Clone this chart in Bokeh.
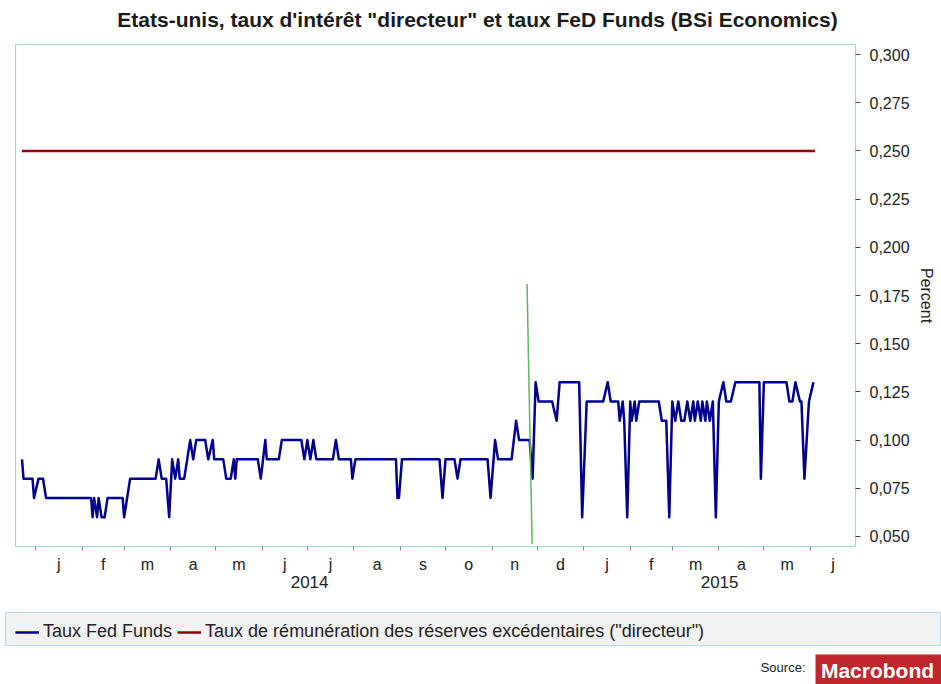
import pandas as pd
from bokeh.plotting import figure
from bokeh.layouts import column
from bokeh.models import (Range1d, LinearAxis, FixedTicker, Legend, LegendItem,
                          ColumnDataSource)
from bokeh.core.properties import value
from bokeh.embed import file_html
from bokeh.resources import INLINE

# ---------------- data ----------------
fed_dates = [
    "2013-12-23", "2013-12-24", "2013-12-30", "2013-12-31", "2014-01-03", "2014-01-06",
    "2014-01-08", "2014-02-07", "2014-02-08", "2014-02-09", "2014-02-11", "2014-02-12",
    "2014-02-14", "2014-02-16", "2014-02-18", "2014-02-28", "2014-03-01", "2014-03-03",
    "2014-03-05", "2014-03-22", "2014-03-24", "2014-03-26", "2014-03-29", "2014-03-31",
    "2014-04-02", "2014-04-04", "2014-04-06", "2014-04-07", "2014-04-10", "2014-04-12",
    "2014-04-14", "2014-04-16", "2014-04-18", "2014-04-24", "2014-04-26", "2014-04-29",
    "2014-04-30", "2014-05-06", "2014-05-08", "2014-05-11", "2014-05-13", "2014-05-14",
    "2014-05-15", "2014-05-29", "2014-05-31", "2014-06-03", "2014-06-04", "2014-06-12",
    "2014-06-14", "2014-06-27", "2014-06-29", "2014-07-01", "2014-07-03", "2014-07-05",
    "2014-07-07", "2014-07-18", "2014-07-20", "2014-07-22", "2014-07-30", "2014-07-31",
    "2014-08-02", "2014-08-29", "2014-08-30", "2014-08-31", "2014-09-02", "2014-09-27",
    "2014-09-29", "2014-10-01", "2014-10-07", "2014-10-09", "2014-10-11", "2014-10-29",
    "2014-10-31", "2014-11-03", "2014-11-05", "2014-11-14", "2014-11-17", "2014-11-19",
    "2014-11-26", "2014-11-28", "2014-11-30", "2014-12-02", "2014-12-11", "2014-12-14",
    "2014-12-16", "2014-12-29", "2014-12-31", "2015-01-03", "2015-01-14", "2015-01-17",
    "2015-01-19", "2015-01-24", "2015-01-25", "2015-01-27", "2015-01-28", "2015-01-30",
    "2015-02-01", "2015-02-02", "2015-02-04", "2015-02-05", "2015-02-07", "2015-02-20",
    "2015-02-22", "2015-02-25", "2015-02-27", "2015-03-01", "2015-03-03", "2015-03-05",
    "2015-03-07", "2015-03-09", "2015-03-11", "2015-03-13", "2015-03-15", "2015-03-16",
    "2015-03-18", "2015-03-20", "2015-03-21", "2015-03-23", "2015-03-24", "2015-03-26",
    "2015-03-28", "2015-03-30", "2015-04-01", "2015-04-04", "2015-04-06", "2015-04-09",
    "2015-04-12", "2015-04-28", "2015-04-29", "2015-05-01", "2015-05-16", "2015-05-18",
    "2015-05-20", "2015-05-22", "2015-05-25", "2015-05-26", "2015-05-28", "2015-05-31",
    "2015-06-03",
]
fed_values = [
    0.09, 0.08, 0.08, 0.07, 0.08, 0.08,
    0.07, 0.07, 0.06, 0.07, 0.06, 0.07,
    0.06, 0.06, 0.07, 0.07, 0.06, 0.07,
    0.08, 0.08, 0.09, 0.08, 0.08, 0.06,
    0.09, 0.08, 0.09, 0.08, 0.08, 0.09,
    0.10, 0.09, 0.10, 0.10, 0.09, 0.10,
    0.09, 0.09, 0.08, 0.08, 0.09, 0.08,
    0.09, 0.09, 0.08, 0.10, 0.09, 0.09,
    0.10, 0.10, 0.09, 0.10, 0.09, 0.10,
    0.09, 0.09, 0.10, 0.09, 0.09, 0.08,
    0.09, 0.09, 0.07, 0.07, 0.09, 0.09,
    0.07, 0.09, 0.09, 0.08, 0.09, 0.09,
    0.07, 0.10, 0.09, 0.09, 0.11, 0.10,
    0.10, 0.08, 0.13, 0.12, 0.12, 0.11,
    0.13, 0.13, 0.06, 0.12, 0.12, 0.13,
    0.12, 0.12, 0.11, 0.12, 0.11, 0.06,
    0.12, 0.11, 0.12, 0.11, 0.12, 0.12,
    0.11, 0.11, 0.06, 0.12, 0.11, 0.12,
    0.11, 0.11, 0.12, 0.11, 0.12, 0.11,
    0.12, 0.11, 0.12, 0.11, 0.12, 0.11,
    0.12, 0.06, 0.12, 0.13, 0.12, 0.12,
    0.13, 0.13, 0.08, 0.13, 0.13, 0.12,
    0.12, 0.13, 0.12, 0.12, 0.08, 0.12,
    0.13,
]
ioer_dates = ["2013-12-23", "2015-06-04"]
ioer_values = [0.25, 0.25]
marker_dates = ["2014-11-24 07:00", "2014-11-27 16:00"]
marker_values = [0.181, 0.046]

series_names = ["Taux Fed Funds",
                "Taux de rémunération des réserves excédentaires (\"directeur\")"]
series_colors = ["#000090", "#990000"]
title_text = "Etats-unis, taux d'intérêt \"directeur\" et taux FeD Funds (BSi Economics)"
source_text = "Source:"
logo_text = "Macrobond"

month_bounds = [
    "2014-01-01", "2014-02-01", "2014-03-01", "2014-04-01", "2014-05-01", "2014-06-01",
    "2014-07-01", "2014-08-01", "2014-09-01", "2014-10-01", "2014-11-01", "2014-12-01",
    "2015-01-01", "2015-02-01", "2015-03-01", "2015-04-01", "2015-05-01", "2015-06-01",
    "2015-07-01",
]
month_letters = ["j", "f", "m", "a", "m", "j", "j", "a", "s", "o", "n", "d",
                 "j", "f", "m", "a", "m", "j"]
year_starts = ["2014-01-01", "2015-01-01"]
year_labels = ["2014", "2015"]
x_start, x_end = "2013-12-18 16:00", "2015-07-01"

y_ticks = [0.050, 0.075, 0.100, 0.125, 0.150, 0.175, 0.200, 0.225, 0.250, 0.275, 0.300]
y_tick_labels = ["0,050", "0,075", "0,100", "0,125", "0,150", "0,175", "0,200",
                 "0,225", "0,250", "0,275", "0,300"]


def ms(s):
    return pd.Timestamp(s).value / 1e6


FONT = "Liberation Sans"
W = 941


def strip(height):
    f = figure(width=W, height=height, x_axis_type=None, y_axis_type=None,
               x_range=Range1d(0, W), y_range=Range1d(height, 0),
               output_backend="svg", toolbar_location=None, frame_align=False,
               min_border_left=0, min_border_right=0, min_border_top=0,
               min_border_bottom=0)
    f.outline_line_color = None
    f.background_fill_color = "white"
    f.border_fill_color = "white"
    return f


# ---------------- title strip ----------------
t = strip(44)
t.text(x=[477], y=[19], text=[title_text], text_align="center", text_baseline="middle",
       text_font=value(FONT), text_font_size="21px", text_font_style="bold",
       text_color="#1a1a1a")

# ---------------- main chart ----------------
p = figure(width=W, height=560, x_axis_type=None, y_axis_type=None, title=None,
           x_range=Range1d(ms(x_start), ms(x_end)), y_range=Range1d(0.0448, 0.3052),
           output_backend="svg", toolbar_location=None, frame_align=False,
           min_border_left=15, min_border_right=86, min_border_top=0, min_border_bottom=58)
p.outline_line_color = "#a9d6e5"
p.outline_line_width = 1.2
p.background_fill_color = "white"
p.border_fill_color = "white"

mb = [ms(d) for d in month_bounds]
month_mids = [(a + b) / 2 for a, b in zip(mb[:-1], mb[1:])]
ys = [ms(d) for d in year_starts]
year_mids = [(ys[0] + ys[1]) / 2, (ys[1] + ms(x_end)) / 2]

ax_months = LinearAxis(ticker=FixedTicker(ticks=month_mids, minor_ticks=mb[:-1]),
                       major_label_overrides=dict(zip(month_mids, month_letters)),
                       major_tick_line_color=None, minor_tick_line_color="#8a8a8a",
                       axis_line_color=None, major_tick_out=0, major_tick_in=0,
                       minor_tick_out=4, minor_tick_in=0,
                       major_label_standoff=5, major_label_text_font=FONT,
                       major_label_text_font_size="16px", major_label_text_color="#222222")
ax_years = LinearAxis(ticker=FixedTicker(ticks=year_mids, minor_ticks=[]),
                      major_label_overrides=dict(zip(year_mids, year_labels)),
                      major_tick_line_color=None, minor_tick_line_color=None,
                      axis_line_color=None, major_tick_out=0, minor_tick_out=0,
                      major_label_standoff=0, major_label_text_font=FONT,
                      major_label_text_font_size="17px", major_label_text_color="#222222")
p.add_layout(ax_months, "below")
p.add_layout(ax_years, "below")

yax = LinearAxis(ticker=FixedTicker(ticks=y_ticks, minor_ticks=[]),
                 major_label_overrides=dict(zip(y_ticks, y_tick_labels)),
                 axis_label="Percent", axis_line_color=None,
                 major_tick_out=5, major_tick_in=0, minor_tick_line_color=None,
                 major_tick_line_color="#444444", major_label_standoff=9,
                 major_label_text_font=FONT, major_label_text_font_size="16px",
                 major_label_text_color="#222222",
                 axis_label_text_font=FONT, axis_label_text_font_size="16px",
                 axis_label_text_font_style="normal", axis_label_text_color="#222222",
                 axis_label_standoff=5)
p.add_layout(yax, "right")

fed_src = ColumnDataSource(dict(x=pd.to_datetime(fed_dates), y=fed_values))
ioer_src = ColumnDataSource(dict(x=pd.to_datetime(ioer_dates), y=ioer_values))
mk_src = ColumnDataSource(dict(x=pd.to_datetime(marker_dates), y=marker_values))

p.line("x", "y", source=ioer_src, line_color=series_colors[1], line_width=2.5)
p.line("x", "y", source=fed_src, line_color=series_colors[0], line_width=2.5,
       line_join="round")
p.line("x", "y", source=mk_src, line_color="#5cb85c", line_width=1.5)

# ---------------- legend / source strip ----------------
q = strip(80)
q.quad(left=[5], right=[940], top=[8], bottom=[41], fill_color="#f2f2f2",
       line_color="#b5dbe8", line_width=1.2)
# legend keys (placed outside the visible range; they only style the legend)
k_fed = q.line("x", "y", source=ColumnDataSource(dict(x=[-50, -40], y=[-50, -50])),
               line_color=series_colors[0], line_width=2.5)
k_ioer = q.line("x", "y", source=ColumnDataSource(dict(x=[-50, -40], y=[-50, -50])),
                line_color=series_colors[1], line_width=2.5)
legend = Legend(items=[LegendItem(label=series_names[0], renderers=[k_fed]),
                       LegendItem(label=series_names[1], renderers=[k_ioer])],
                location=(15, 42), orientation="horizontal",
                glyph_width=24, glyph_height=16, label_standoff=4, spacing=5,
                padding=5, margin=0, background_fill_alpha=0, border_line_color=None,
                label_text_font=FONT, label_text_font_size="18px",
                label_text_color="#222222")
q.add_layout(legend, "center")

q.text(x=[805], y=[63], text=[source_text], text_align="right", text_baseline="middle",
       text_font=value(FONT), text_font_size="13px", text_color="#222222")
q.quad(left=[815], right=[941], top=[50], bottom=[80], fill_color="#c1272d",
       line_color=None)
q.text(x=[877], y=[66], text=[logo_text], text_align="center", text_baseline="middle",
       text_font=value(FONT), text_font_style="bold",
       text_font_size="21px", text_color="white")

layout = column(t, p, q, spacing=0)
open("out.html", "w").write(file_html(layout, INLINE))
